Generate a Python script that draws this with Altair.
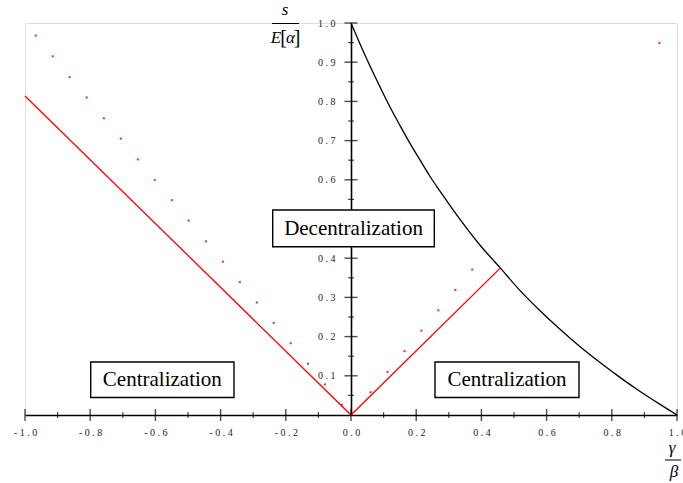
import altair as alt
import pandas as pd

# Boundary curve s/E[a] as a function of gamma/beta
curve_x = [0.0, 0.028, 0.058, 0.089, 0.120, 0.150, 0.181, 0.212, 0.242, 0.273, 0.322,
           0.396, 0.457, 0.518, 0.580, 0.641, 0.702, 0.764, 0.825, 0.887, 0.948, 1.0]
curve_y = [1.0, 0.946, 0.891, 0.837, 0.785, 0.739, 0.693, 0.650, 0.609, 0.571, 0.513,
           0.433, 0.376, 0.318, 0.266, 0.219, 0.175, 0.134, 0.096, 0.060, 0.027, 0.0]

# Solid red threshold (V shape)
red_x = [-1.0, 0.0, 0.457]
red_y = [0.814, 0.0, 0.374]

# Dotted red threshold
dot_x = [-0.967, -0.915, -0.863, -0.811, -0.758, -0.706, -0.654, -0.602, -0.550, -0.498,
         -0.445, -0.393, -0.341, -0.289, -0.237, -0.185, -0.132, -0.080, -0.028,
         0.060, 0.112, 0.164, 0.216, 0.268, 0.320, 0.372, 0.946]
dot_y = [0.968, 0.915, 0.862, 0.810, 0.757, 0.705, 0.652, 0.600, 0.548, 0.496,
         0.443, 0.391, 0.339, 0.287, 0.235, 0.183, 0.131, 0.078, 0.026,
         0.058, 0.110, 0.163, 0.215, 0.267, 0.319, 0.371, 0.949]

# Axis tick positions
x_major = [-1.0, -0.8, -0.6, -0.4, -0.2, 0.0, 0.2, 0.4, 0.6, 0.8, 1.0]
x_minor = [-0.9, -0.7, -0.5, -0.3, -0.1, 0.1, 0.3, 0.5, 0.7, 0.9]
y_major = [0.1, 0.2, 0.3, 0.4, 0.5, 0.6, 0.7, 0.8, 0.9, 1.0]
y_minor = [0.05, 0.15, 0.25, 0.35, 0.45, 0.55, 0.65, 0.75, 0.85, 0.95]

W, H = 652, 392
SERIF = "'Liberation Serif', 'Times New Roman', Times, serif"

xs = alt.Scale(domain=[-1, 1], nice=False, zero=False)
ys = alt.Scale(domain=[0, 1], nice=False, zero=False)

spaced = "join(split(replace(datum.label, '\u2212', '-'), ''), ' ')"

x_axis = alt.Axis(values=x_major, format=".1f", labelExpr=spaced, ticks=False, tickSize=0,
                  grid=False, domainColor="black", domainWidth=1.6, labelPadding=12,
                  labelFont=SERIF, labelFontSize=10, labelColor="#222",
                  labelOverlap=False, labelFlush=False, title=None)
y_axis = alt.Axis(values=y_major, format=".1f", labelExpr=spaced, ticks=False, tickSize=0,
                  grid=False, domainColor="black", domainWidth=1.6, labelPadding=16,
                  offset=-W / 2, labelFont=SERIF, labelFontSize=10, labelColor="#222",
                  labelOverlap=False, labelFlush=False, title=None)


def X(field="x"):
    return alt.X(f"{field}:Q", scale=xs, axis=x_axis)


def Y(field="y"):
    return alt.Y(f"{field}:Q", scale=ys, axis=y_axis)


curve = alt.Chart(pd.DataFrame({"x": curve_x, "y": curve_y})).mark_line(
    color="black", strokeWidth=1.3, interpolate="monotone").encode(x=X(), y=Y(), order="x:Q")

red = alt.Chart(pd.DataFrame({"x": red_x, "y": red_y, "i": [0, 1, 2]})).mark_line(
    color="#ff0000", strokeWidth=1.3).encode(x=X(), y=Y(), order="i:Q")

dots = alt.Chart(pd.DataFrame({"x": dot_x, "y": dot_y})).mark_square(
    color="#ff0000", size=4, opacity=0.85).encode(x=X(), y=Y())

xt_major = alt.Chart(pd.DataFrame({"x": x_major, "y": [0.0] * len(x_major)})).mark_tick(
    orient="vertical", size=12, thickness=1.4, color="black").encode(x=X(), y=Y())
xt_minor = alt.Chart(pd.DataFrame({"x": x_minor, "y": [0.0] * len(x_minor)})).mark_tick(
    orient="vertical", size=6, thickness=1.2, color="black").encode(x=X(), y=Y())
yt_major = alt.Chart(pd.DataFrame({"x": [0.0] * len(y_major), "y": y_major})).mark_tick(
    orient="horizontal", size=13, thickness=1.4, color="black").encode(x=X(), y=Y())
yt_minor = alt.Chart(pd.DataFrame({"x": [0.0] * len(y_minor), "y": y_minor})).mark_tick(
    orient="horizontal", size=6, thickness=1.2, color="black").encode(x=X(), y=Y())


def label_box(text, x1, x2, y1, y2):
    box = alt.Chart(pd.DataFrame({"t": [text]})).mark_rect(
        fill="white", stroke="black", strokeWidth=1.4).encode(
        x=alt.value(x1), x2=alt.value(x2), y=alt.value(y1), y2=alt.value(y2))
    txt = alt.Chart(pd.DataFrame({"t": [text]})).mark_text(
        font=SERIF, fontSize=21, color="black", align="center", baseline="middle").encode(
        text="t:N", x=alt.value((x1 + x2) / 2), y=alt.value((y1 + y2) / 2 + 0.5))
    return box + txt


def label(text, x, y, size=17, italic=True, baseline="alphabetic"):
    return alt.Chart(pd.DataFrame({"t": [text]})).mark_text(
        font=SERIF, fontSize=size, fontStyle="italic" if italic else "normal",
        color="black", align="center", baseline=baseline).encode(
        text="t:N", x=alt.value(x), y=alt.value(y))


def bar(x1, x2, y):
    return alt.Chart(pd.DataFrame({"t": [0]})).mark_rule(
        color="black", strokeWidth=1).encode(x=alt.value(x1), x2=alt.value(x2), y=alt.value(y))


boxes = (label_box("Decentralization", 247.7, 409.3, 187, 223.7)
         + label_box("Centralization", 65.7, 209, 339, 374.5)
         + label_box("Centralization", 410, 554, 339, 374.5))

# Axis titles written as fractions: s / E[alpha] and gamma / beta
y_title = (label("s", 260, -8, size=17)
           + bar(247, 274, 0.5)
           + label("E", 251, 20, size=17)
           + label("[", 258.5, 21, size=20, italic=False)
           + label("\u03b1", 265.5, 20, size=17)
           + label("]", 272, 21, size=20, italic=False))
x_title = (label("\u03b3", 647, 430, size=17)
           + bar(640, 656, 437)
           + label("\u03b2", 649, 454, size=17))

chart = alt.layer(
    red, dots, curve, xt_minor, xt_major, yt_minor, yt_major, boxes, y_title, x_title
).properties(
    width=W, height=H,
    autosize=alt.AutoSizeParams(type="none"),
    padding={"left": 25, "top": 23, "right": 6, "bottom": 68},
).configure_view(stroke=None).configure(background="white")

chart.save("out.html", embed_options={"renderer": "svg", "actions": False})
